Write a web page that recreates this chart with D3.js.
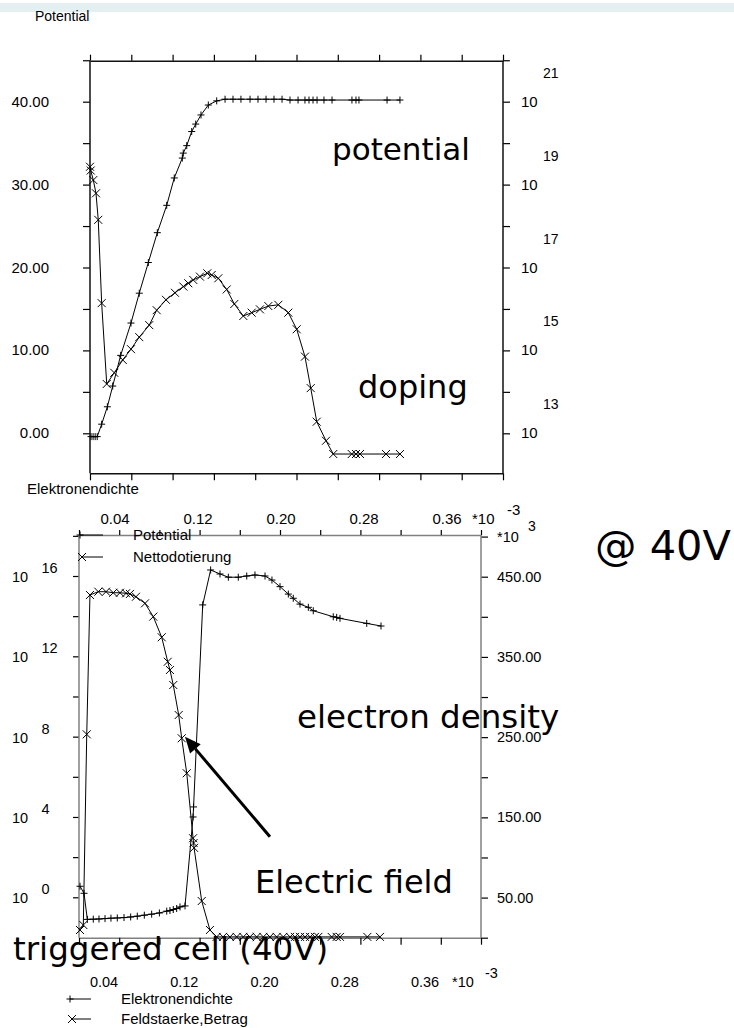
<!DOCTYPE html>
<html><head><meta charset="utf-8">
<script src="https://cdn.jsdelivr.net/npm/d3@7"></script>
<style>body{margin:0;background:#fff}svg{display:block}</style>
</head><body>
<svg id="c" width="734" height="1028"></svg>
<script>
// ---------- TOP CHART DATA ----------
// Potential (+), left linear axis
const potX = [0.001,0.003,0.005,0.007,0.0113,0.0168,0.022,0.0297,0.0397,0.0477,0.0565,0.0652,0.0743,0.0816,0.0894,0.0903,0.0937,0.0985,0.1024,0.1075,0.1146,0.1227,0.1308,0.1385,0.1462,0.155,0.1627,0.1705,0.1782,0.186,0.1937,0.2015,0.2082,0.2121,0.216,0.2199,0.2266,0.2344,0.2537,0.2576,0.2605,0.2877,0.3002];
const potV = [-0.4,-0.4,-0.4,-0.4,1.1,3.2,5.7,9.4,13.3,16.9,20.6,24.2,27.5,30.8,33.2,33.8,34.7,36.4,37.3,38.4,39.6,40.1,40.3,40.3,40.3,40.3,40.3,40.3,40.3,40.3,40.2,40.2,40.2,40.2,40.2,40.2,40.2,40.2,40.2,40.2,40.2,40.2,40.2];
// Nettodotierung (x), right log axis (exponent of 10)
const dopX = [0.0,0.0007,0.0032,0.0058,0.008,0.0113,0.0162,0.0235,0.0317,0.0397,0.0477,0.0574,0.0646,0.0736,0.0823,0.0904,0.0952,0.1,0.1065,0.1136,0.1179,0.1243,0.1324,0.1398,0.1485,0.1566,0.1646,0.1727,0.1824,0.1921,0.2002,0.2082,0.2138,0.2196,0.2286,0.2356,0.2535,0.2576,0.2615,0.2867,0.3002];
const dopE = [19.43,19.34,19.11,18.79,18.15,16.14,14.19,14.46,14.77,15.03,15.32,15.61,15.97,16.22,16.39,16.54,16.62,16.7,16.78,16.86,16.82,16.74,16.47,16.12,15.83,15.91,15.99,16.07,16.1,15.91,15.51,14.85,14.09,13.28,12.82,12.5,12.5,12.5,12.5,12.5,12.5];
const topXTicks = [0,0.04,0.08,0.12,0.16,0.2,0.24,0.28,0.32,0.36,0.4];
const topLeftTicks = [0,5,10,15,20,25,30,35,40,45];
const topLeftLabels = [0,10,20,30,40];
const topRightExp = [13,14,15,16,17,18,19,20,21,22];
const topRightLabelExp = [13,15,17,19,21];

// ---------- BOTTOM CHART DATA ----------
// Elektronendichte (+), left log axis (exponent)
const edX = [0.001,0.005,0.0083,0.0142,0.0199,0.0259,0.0318,0.0381,0.0448,0.0514,0.058,0.065,0.0723,0.08,0.0873,0.0905,0.0938,0.0972,0.1005,0.1055,0.1135,0.114,0.1231,0.131,0.1403,0.1486,0.1585,0.1669,0.1751,0.1851,0.192,0.2,0.2083,0.2132,0.2199,0.2282,0.2331,0.253,0.2564,0.2597,0.2863,0.3005];
const edE = [0.55,0.2,-1.1,-1.09,-1.08,-1.06,-1.04,-1.03,-1.01,-0.98,-0.94,-0.89,-0.84,-0.78,-0.69,-0.66,-0.61,-0.56,-0.48,-0.43,4.0,4.5,14.56,16.3,16.1,15.94,15.94,16.0,16.05,16.0,15.8,15.47,15.1,14.89,14.6,14.44,14.27,13.97,13.94,13.89,13.64,13.51];
// Feldstaerke,Betrag (x), right linear axis (*10^3)
const fX = [0.001,0.0043,0.0077,0.0109,0.0192,0.0269,0.0341,0.0408,0.0468,0.0507,0.0567,0.0657,0.0739,0.0823,0.0883,0.0905,0.0938,0.0992,0.1022,0.1072,0.1135,0.114,0.1145,0.1221,0.1303,0.137,0.1433,0.1502,0.1569,0.1635,0.1701,0.1768,0.1834,0.19,0.1967,0.2033,0.21,0.2149,0.2199,0.2249,0.2299,0.2348,0.2381,0.2514,0.2564,0.2597,0.2869,0.2995];
const fV = [9.6,15.8,253.5,427.2,431.3,431.3,430,430,429.3,428.5,425,416.8,400.2,374.5,344,333.7,315,277.6,248.6,205,124,118,112,45.7,9.6,1,1,1,1,1,1,1,1,1,1,1,1,1,1,1,1,1,1,1,1,1,1,1];
const botXTicks = [0,0.04,0.08,0.12,0.16,0.2,0.24,0.28,0.32,0.36,0.4];
const xLabels = [0.04,0.12,0.20,0.28,0.36];
const botLeftExp = [0,2,4,6,8,10,12,14,16,18];
const botLeftLabelExp = [0,4,8,12,16];
const botRightTicks = [0,50,100,150,200,250,300,350,400,450,500];
const botRightLabels = [50,150,250,350,450];

// ---------- DRAW ----------
const svg = d3.select("#c");
const AX = "Liberation Sans, Arial, sans-serif";
const ANN = "DejaVu Sans, Verdana, sans-serif";
const plus = "M-3.5,0H3.5M0,-3.5V3.5";
const cross = "M-4,-4L4,4M-4,4L4,-4";

// header band
svg.append("rect").attr("x",0).attr("y",3).attr("width",734).attr("height",9).attr("fill","#e4eff1");
svg.append("text").attr("x",35).attr("y",21).attr("font-family",AX).attr("font-size",14).text("Potential");

// ===== top chart =====
const x1 = d3.scaleLinear().domain([0,0.4]).range([90,503]);
const yl1 = d3.scaleLinear().domain([0,40]).range([433.3,101.7]);
const yr1 = d3.scaleLinear().domain([13,21]).range([433.3,101.7]); // exponent
const T = {l:90,r:503,t:60.7,b:473.3};
const g1 = svg.append("g");
function axisStyle(g,col){g.selectAll("path.domain").attr("stroke",col).attr("stroke-width",1.5);g.selectAll(".tick line").attr("stroke","#000").attr("stroke-width",1.2);}
g1.append("g").attr("transform",`translate(0,${T.t})`).call(d3.axisTop(x1).tickValues(topXTicks).tickSize(6).tickSizeOuter(0).tickFormat("")).call(g=>axisStyle(g,"#111"));
g1.append("g").attr("transform",`translate(0,${T.b})`).call(d3.axisBottom(x1).tickValues(topXTicks).tickSize(7).tickSizeOuter(0).tickFormat("")).call(g=>axisStyle(g,"#111"));
g1.append("g").attr("transform",`translate(${T.l},0)`).call(d3.axisLeft(yl1).tickValues(topLeftTicks).tickSize(7).tickSizeOuter(0).tickFormat("")).call(g=>{g.select("path.domain").remove();axisStyle(g,"#111");});
g1.append("g").attr("transform",`translate(${T.r},0)`).call(d3.axisRight(yr1).tickValues(topRightExp).tickSize(7).tickSizeOuter(0).tickFormat("")).call(g=>{g.select("path.domain").remove();axisStyle(g,"#111");});
g1.append("line").attr("x1",T.l).attr("x2",T.l).attr("y1",T.t).attr("y2",T.b).attr("stroke","#111").attr("stroke-width",1.5);
g1.append("line").attr("x1",T.r).attr("x2",T.r).attr("y1",T.t).attr("y2",T.b).attr("stroke","#111").attr("stroke-width",1.5);
// labels
g1.selectAll("text.yl").data(topLeftLabels).join("text").attr("x",49).attr("y",d=>yl1(d)+5).attr("text-anchor","end").attr("font-family",AX).attr("font-size",15).text(d=>d.toFixed(2));
const rl = g1.selectAll("g.rl").data(topRightLabelExp).join("g");
rl.append("text").attr("x",521).attr("y",d=>yr1(d)+5).attr("font-family",AX).attr("font-size",15).text("10");
rl.append("text").attr("x",543).attr("y",d=>yr1(d)-24).attr("font-family",AX).attr("font-size",14).text(d=>d);
svg.append("text").attr("x",27).attr("y",494).attr("font-family",AX).attr("font-size",15).text("Elektronendichte");

const line = d3.line();
function series(g,xs,ys,xsc,ysc,mk){
  const pts = xs.map((x,i)=>[xsc(x),ysc(ys[i])]);
  g.append("path").attr("d",line(pts)).attr("fill","none").attr("stroke","#000").attr("stroke-width",1);
  g.selectAll(null).data(pts).join("path").attr("transform",d=>`translate(${d[0]},${d[1]})`).attr("d",mk).attr("stroke","#000").attr("stroke-width",1).attr("fill","none");
}
series(g1,potX,potV,x1,yl1,plus);
series(g1,dopX,dopE,x1,yr1,cross);

// ===== bottom chart =====
const x2 = d3.scaleLinear().domain([0,0.4]).range([79,481]);
const yl2 = d3.scaleLinear().domain([0,16]).range([897.3,576]); // exponent
const yr2 = d3.scaleLinear().domain([0,450]).range([937.7,576.7]);
const B = {l:79,r:481,t:535,b:937.7};
const g2 = svg.append("g");
g2.append("g").attr("transform",`translate(0,${B.t})`).call(d3.axisTop(x2).tickValues(botXTicks).tickSize(5).tickSizeOuter(0).tickFormat("")).call(g=>axisStyle(g,"#808080"));
g2.append("g").attr("transform",`translate(0,${B.b})`).call(d3.axisBottom(x2).tickValues(botXTicks).tickSize(7).tickSizeOuter(0).tickFormat("")).call(g=>axisStyle(g,"#808080"));
g2.append("g").attr("transform",`translate(${B.l},0)`).call(d3.axisLeft(yl2).tickValues(botLeftExp).tickSize(6).tickSizeOuter(0).tickFormat("")).call(g=>{g.select("path.domain").remove();axisStyle(g,"#808080");});
g2.append("g").attr("transform",`translate(${B.r},0)`).call(d3.axisRight(yr2).tickValues(botRightTicks).tickSize(7).tickSizeOuter(0).tickFormat("")).call(g=>{g.select("path.domain").remove();axisStyle(g,"#808080");});
g2.append("line").attr("x1",B.l).attr("x2",B.l).attr("y1",B.t).attr("y2",B.b).attr("stroke","#808080").attr("stroke-width",1.5);
g2.append("line").attr("x1",B.r).attr("x2",B.r).attr("y1",B.t).attr("y2",B.b).attr("stroke","#808080").attr("stroke-width",1.5);
const ll = g2.selectAll("g.ll").data(botLeftLabelExp).join("g");
ll.append("text").attr("x",12).attr("y",d=>yl2(d)+6).attr("font-family",AX).attr("font-size",14.5).text("10");
ll.append("text").attr("x",41.5).attr("y",d=>yl2(d)-3).attr("font-family",AX).attr("font-size",14.5).text(d=>d);
g2.selectAll("text.rr").data(botRightLabels).join("text").attr("x",497).attr("y",d=>yr2(d)+5).attr("font-family",AX).attr("font-size",14.5).text(d=>d.toFixed(2));
svg.append("text").attr("x",497).attr("y",542).attr("font-family",AX).attr("font-size",14.5).text("*10");
svg.append("text").attr("x",528).attr("y",531).attr("font-family",AX).attr("font-size",14).text("3");
// upper x labels
const xlU = d3.scaleLinear().domain([0.04,0.36]).range([115,447]);
svg.selectAll("text.xu").data(xLabels).join("text").attr("x",d=>xlU(d)).attr("y",524).attr("text-anchor","middle").attr("font-family",AX).attr("font-size",15).text(d=>d.toFixed(2));
svg.append("text").attr("x",472).attr("y",524).attr("font-family",AX).attr("font-size",15).text("*10");
svg.append("text").attr("x",507).attr("y",515).attr("font-family",AX).attr("font-size",15).text("-3");
// lower x labels
const xlL = d3.scaleLinear().domain([0.04,0.36]).range([104,425]);
svg.selectAll("text.xl").data(xLabels).join("text").attr("x",d=>xlL(d)).attr("y",987).attr("text-anchor","middle").attr("font-family",AX).attr("font-size",14.5).text(d=>d.toFixed(2));
svg.append("text").attr("x",452).attr("y",987).attr("font-family",AX).attr("font-size",14.5).text("*10");
svg.append("text").attr("x",485).attr("y",978).attr("font-family",AX).attr("font-size",14.5).text("-3");

series(g2,edX,edE,x2,yl2,plus);
series(g2,fX,fV,x2,yr2,cross);

// legends
function legend(x0,x1l,y,mk,label,tx){
  svg.append("line").attr("x1",x0).attr("x2",x1l).attr("y1",y).attr("y2",y).attr("stroke","#000");
  svg.append("path").attr("transform",`translate(${x0},${y})`).attr("d",mk).attr("stroke","#000").attr("fill","none");
  svg.append("text").attr("x",tx).attr("y",y+5).attr("font-family",AX).attr("font-size",15).text(label);
}
legend(80,103,535,plus,"Potential",133);
legend(82,103,557,cross,"Nettodotierung",133);
legend(70,91,999,plus,"Elektronendichte",121);
legend(72,91,1019,cross,"Feldstaerke,Betrag",121);

// annotations
const ann = [
  {t:"potential",x:332,y:160,s:31},
  {t:"doping",x:358,y:398,s:32},
  {t:"electron density",x:297,y:728,s:32.5},
  {t:"Electric field",x:255,y:893,s:32},
  {t:"triggered cell (40V)",x:13,y:960,s:32.5},
  {t:"@ 40V",x:595,y:560,s:41.5}
];
svg.selectAll("text.ann").data(ann).join("text").attr("x",d=>d.x).attr("y",d=>d.y).attr("font-family",ANN).attr("font-size",d=>d.s).attr("fill","#000").text(d=>d.t);

// arrow (data coords of bottom chart: x, right axis value)
const arrowTail = [0.19,125.9], arrowTip = [0.1055,250.6];
const ax0=x2(arrowTail[0]), ay0=yr2(arrowTail[1]), ax1=x2(arrowTip[0]), ay1=yr2(arrowTip[1]);
const ang = Math.atan2(ay1-ay0, ax1-ax0), hl=16, hw=7;
const bx = ax1-hl*Math.cos(ang), by = ay1-hl*Math.sin(ang);
svg.append("line").attr("x1",ax0).attr("y1",ay0).attr("x2",bx).attr("y2",by).attr("stroke","#000").attr("stroke-width",3);
svg.append("path").attr("d",`M${ax1},${ay1}L${bx+hw*Math.sin(ang)},${by-hw*Math.cos(ang)}L${bx-hw*Math.sin(ang)},${by+hw*Math.cos(ang)}Z`).attr("fill","#000");
</script>
</body></html>
